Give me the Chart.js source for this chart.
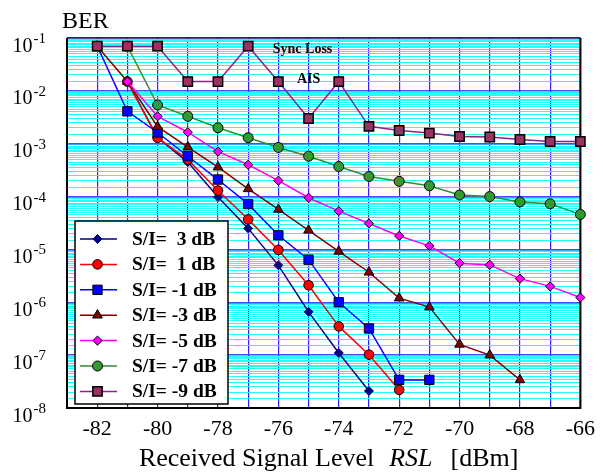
<!DOCTYPE html>
<html><head><meta charset="utf-8">
<script src="https://cdn.jsdelivr.net/npm/chart.js@4.4.0/dist/chart.umd.min.js"></script>
<style>html,body{margin:0;padding:0;background:#fff;}#wrap{width:603px;height:473px;}</style>
</head><body><div id="wrap"><canvas id="c" width="603" height="473"></canvas></div>
<script>
// ---- data ----
const rsl = [-82,-81,-80,-79,-78,-77,-76,-75,-74,-73,-72,-71,-70,-69,-68,-67,-66];
const seriesNames = ['S/I=  3 dB','S/I=  1 dB','S/I= -1 dB','S/I= -3 dB','S/I= -5 dB','S/I= -7 dB','S/I= -9 dB'];
const berSI3  = [null,1.5e-2,1.3e-3,4.5e-4,9.8e-5,2.5e-5,5.0e-6,6.6e-7,1.1e-7,2.1e-8,null,null,null,null,null,null,null];
const berSI1  = [null,1.5e-2,1.29e-3,5.0e-4,1.3e-4,3.7e-5,9.8e-6,2.1e-6,3.5e-7,1.02e-7,2.2e-8,null,null,null,null,null,null];
const berSIm1 = [7e-2,4.1e-3,1.63e-3,5.8e-4,2.1e-4,7.2e-5,1.85e-5,6.4e-6,1.0e-6,3.2e-7,3.4e-8,3.4e-8,null,null,null,null,null];
const berSIm3 = [7e-2,1.5e-2,2.1e-3,8.6e-4,3.6e-4,1.4e-4,5.7e-5,2.3e-5,9.2e-6,3.7e-6,1.2e-6,8.1e-7,1.6e-7,1.0e-7,3.4e-8,null,null];
const berSIm5 = [null,1.5e-2,3.3e-3,1.65e-3,7.1e-4,4.0e-4,2.0e-4,9.5e-5,5.3e-5,3.1e-5,1.8e-5,1.17e-5,5.5e-6,5.1e-6,2.8e-6,2.0e-6,1.23e-6];
const berSIm7 = [null,7e-2,5.4e-3,3.3e-3,2.0e-3,1.3e-3,8.5e-4,5.8e-4,3.7e-4,2.4e-4,1.94e-4,1.6e-4,1.07e-4,1.0e-4,7.9e-5,7.3e-5,4.6e-5];
const berSIm9 = [7e-2,7e-2,7e-2,1.5e-2,1.5e-2,7e-2,1.5e-2,3.0e-3,1.5e-2,2.13e-3,1.78e-3,1.59e-3,1.37e-3,1.34e-3,1.2e-3,1.1e-3,1.1e-3];
const xTickLabels = [-82,-80,-78,-76,-74,-72,-70,-68,-66];
const yDecades = [-8,-7,-6,-5,-4,-3,-2,-1];
const noteTexts = ['Sync Loss','AIS'];
const noteX = [-75.2,-75.0];
const noteY = [6.0e-2,1.63e-2];

// ---- styles ----
const allSeries = [berSI3,berSI1,berSIm1,berSIm3,berSIm5,berSIm7,berSIm9];
const lineColors = ['#000080','#ff0000','#0000ff','#800000','#ff00ff','#2f8f2f','#8b2387'];
const fillColors = ['#000080','#ff0000','#0000ff','#800000','#ff00ff','#339933','#993366'];
const edgeColors = ['#000080','#000000','#000000','#000000','#000000','#000000','#000000'];
const shapes = ['rectRot','circle','rect','triangle','rectRot','circle','rect'];
const radii = [4.5,4.8,6.6,5.6,4.6,5.0,6.6];
const SERIF = "'Liberation Serif','Times New Roman',serif";

const datasets = allSeries.map((vals,i)=>({
  label: seriesNames[i],
  data: rsl.map((x,j)=>({x:x,y:vals[j]})).filter(p=>p.y!==null),
  borderColor: lineColors[i], borderWidth: 1.5,
  pointStyle: shapes[i], pointRadius: radii[i],
  pointBackgroundColor: fillColors[i], pointBorderColor: edgeColors[i],
  pointBorderWidth: i===6?1.5:1,
  fill:false, tension:0, clip:false, order: 6-i
}));

function isMajor(v){ const l=Math.log10(v); return Math.abs(l-Math.round(l))<1e-6; }

const overlay = {
  id:'overlay',
  beforeDatasetsDraw(chart){
    const {ctx, chartArea:a, scales} = chart;
    ctx.save();
    ctx.strokeStyle='#000';
    ctx.lineWidth=2;
    ctx.beginPath(); ctx.moveTo(a.left,a.top); ctx.lineTo(a.left,a.bottom); ctx.lineTo(a.right,a.bottom); ctx.lineTo(a.right,a.top); ctx.stroke();
    ctx.lineWidth=1;
    ctx.beginPath(); ctx.moveTo(a.left,a.top); ctx.lineTo(a.right,a.top); ctx.stroke();
    ctx.fillStyle='#000'; ctx.textAlign='center'; ctx.textBaseline='middle';
    ctx.font="bold 14px "+SERIF;
    noteTexts.forEach((t,i)=>{
      ctx.fillText(t, scales.x.getPixelForValue(noteX[i]), scales.y.getPixelForValue(noteY[i]));
    });
    ctx.restore();
  },
  afterDatasetsDraw(chart){
    const {ctx, chartArea:a} = chart;
    const H = Chart.helpers;
    ctx.save();
    const bx=a.left+8, by=a.top+183, bw=153, bh=183;
    ctx.fillStyle='#fff'; ctx.fillRect(bx,by,bw,bh);
    ctx.strokeStyle='#000'; ctx.lineWidth=1.5; ctx.strokeRect(bx,by,bw,bh);
    ctx.font="bold 19.5px "+SERIF; ctx.textBaseline='middle'; ctx.textAlign='left';
    chart.data.datasets.forEach((ds,i)=>{
      const y = by+18+i*25.4;
      ctx.strokeStyle=ds.borderColor; ctx.lineWidth=1.5;
      ctx.beginPath(); ctx.moveTo(bx+5,y); ctx.lineTo(bx+42,y); ctx.stroke();
      ctx.fillStyle=ds.pointBackgroundColor; ctx.strokeStyle=ds.pointBorderColor; ctx.lineWidth=ds.pointBorderWidth;
      H.drawPoint(ctx,{pointStyle:ds.pointStyle,radius:ds.pointRadius,rotation:0,borderWidth:ds.pointBorderWidth},bx+22.5,y);
      ctx.fillStyle='#000';
      ctx.fillText(ds.label,bx+57,y+1);
    });
    ctx.restore();
  },
  afterDraw(chart){
    const {ctx, chartArea:a, scales} = chart;
    ctx.save();
    ctx.fillStyle='#000';
    yDecades.forEach(e=>{
      const y = scales.y.getPixelForValue(Math.pow(10,e));
      ctx.textBaseline='alphabetic';
      ctx.font="20px "+SERIF; ctx.textAlign='right';
      ctx.fillText('10',32.5,y+13.5);
      ctx.font="15px "+SERIF; ctx.textAlign='left';
      ctx.fillText(String(e),33.5,y+5);
    });
    ctx.font="24px "+SERIF; ctx.textAlign='left';
    ctx.fillText('BER',62,28);
    // x title
    const p1='Received Signal Level', p2='RSL', p3='[dBm]';
    const fs=26;
    ctx.font=fs+"px "+SERIF; const w1=ctx.measureText(p1).width, w3=ctx.measureText(p3).width;
    ctx.font="italic "+fs+"px "+SERIF; const w2=ctx.measureText(p2).width;
    const g1=15,g2=18, tot=w1+g1+w2+g2+w3;
    let x0=(a.left+a.right)/2+5-tot/2, yb=466;
    ctx.font=fs+"px "+SERIF; ctx.fillText(p1,x0,yb);
    ctx.font="italic "+fs+"px "+SERIF; ctx.fillText(p2,x0+w1+g1,yb);
    ctx.font=fs+"px "+SERIF; ctx.fillText(p3,x0+w1+g1+w2+g2,yb);
    ctx.restore();
  }
};

new Chart(document.getElementById('c'),{
  type:'line',
  data:{datasets},
  options:{
    responsive:false, animation:false, devicePixelRatio:1,
    layout:{padding:{top:38,right:18,left:0,bottom:0}},
    plugins:{legend:{display:false},tooltip:{enabled:false}},
    scales:{
      x:{type:'linear',min:-83,max:-66,
        afterFit(s){ s.height=65; },
        border:{display:false},
        grid:{color:'#2626ff',lineWidth:1.2,drawTicks:false},
        ticks:{stepSize:1,autoSkip:false,maxRotation:0,padding:8,color:'#000',
          font:{family:SERIF,size:22},
          callback:v=> xTickLabels.includes(v)?String(v):''}
      },
      y:{type:'logarithmic',min:1e-8,max:1e-1,
        afterFit(s){ s.width=67; },
        afterBuildTicks(s){
          const t=[];
          for(let e=-8;e<=-2;e++){ for(let k=1;k<10;k+=0.5){ t.push({value:k*Math.pow(10,e)}); } }
          t.push({value:1e-1});
          s.ticks=t;
        },
        border:{display:false},
        grid:{drawTicks:false,
          color:c=> isMajor(c.tick.value)?'#4a4aff':'#22ffff',
          lineWidth:c=> isMajor(c.tick.value)?1.5:1},
        ticks:{display:false}
      }
    }
  },
  plugins:[overlay]
});
</script></body></html>
